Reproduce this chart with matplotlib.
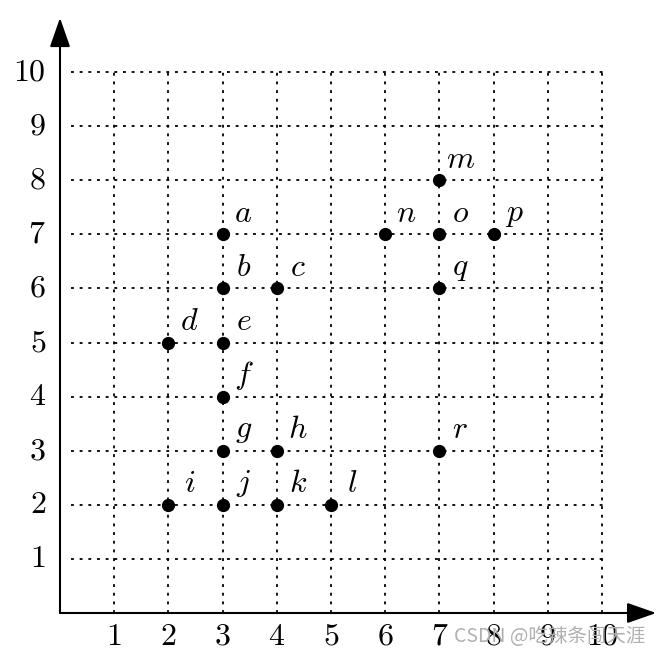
import matplotlib
matplotlib.use("Agg")
import matplotlib.pyplot as plt

plt.rcParams['mathtext.fontset'] = 'cm'

# points of the lattice and their names
names = ["a", "b", "c", "d", "e", "f", "g", "h", "i", "j", "k", "l",
         "m", "n", "o", "p", "q", "r"]
xs = [3, 3, 4, 2, 3, 3, 3, 4, 2, 3, 4, 5, 7, 6, 7, 8, 7, 7]
ys = [7, 6, 6, 5, 5, 4, 3, 3, 2, 2, 2, 2, 8, 7, 7, 7, 6, 3]
ticks = [1, 2, 3, 4, 5, 6, 7, 8, 9, 10]

W, H = 661, 656
fig = plt.figure(figsize=(W / 100, H / 100), dpi=100)
ox, oy = 60, 613      # origin in pixels
ux, uy = 54.2, 54.1   # pixels per unit
ax = fig.add_axes([ox / W, (H - oy) / H, ux * 11 / W, uy * 11 / H])
ax.set_xlim(0, 11)
ax.set_ylim(0, 11)
ax.axis("off")

# dotted grid
for t in ticks:
    ax.plot([0.2, 10.1], [t, t], color="k", lw=1.3, ls=(0, (1.6, 3.2)))
    ax.plot([t, t], [0, 10.1], color="k", lw=1.3, ls=(0, (1.6, 3.2)))

# axes with arrows
arrow = dict(arrowstyle="-|>,head_length=0.4,head_width=0.14", mutation_scale=45,
             lw=1.5, color="k", shrinkA=0, shrinkB=0)
ax.annotate("", xy=(11, 0), xytext=(0, 0), arrowprops=arrow, annotation_clip=False)
ax.annotate("", xy=(0, 11), xytext=(0, 0), arrowprops=arrow, annotation_clip=False)

for t in ticks:
    ax.text(t, -0.43, r"$%d$" % t, ha="center", va="center", fontsize=23)
    ax.text(-0.26, t, r"$%d$" % t, ha="right", va="center", fontsize=23)

ax.plot(xs, ys, "o", color="k", ms=8.5, zorder=5)
for n, x, y in zip(names, xs, ys):
    ax.annotate(r"$%s$" % n, (x, y), xytext=(15, 15), textcoords="offset points",
                ha="center", va="center", fontsize=23)

fig.text(645 / W, 1 - 636 / H, "CSDN @吃辣条闯天涯", ha="right", va="center",
         fontsize=14, color="#b0b0b0", family=["Noto Sans CJK SC", "DejaVu Sans"])

fig.savefig("out.png", dpi=100, facecolor="white")
